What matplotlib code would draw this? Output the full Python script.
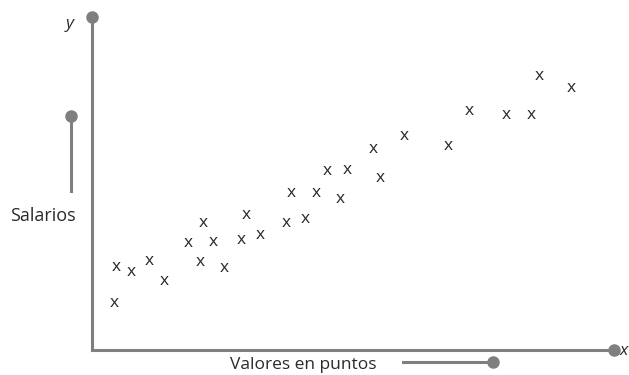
import matplotlib.pyplot as plt

# puntos (valor en puntos, salario) en unidades relativas 0-100
puntos = [4.2, 4.6, 7.5, 10.9, 13.8, 18.4, 21.3, 23.2, 20.7, 25.3,
          28.5, 29.5, 32.2, 37.2, 40.8, 38.1, 42.9, 45.0, 48.9, 47.5,
          53.8, 55.2, 59.8, 68.2, 72.2, 79.3, 84.1, 85.6, 91.8]
salarios = [14.1, 24.9, 23.4, 26.7, 20.7, 32.1, 38.1, 32.4, 26.4, 24.6,
            33.0, 40.5, 34.5, 38.1, 39.3, 47.1, 47.1, 53.8, 54.1, 45.3,
            60.4, 51.7, 64.3, 61.3, 71.8, 70.6, 70.6, 82.3, 78.7]

gris = '#7f7f7f'
tinta = '#2a2a2a'
plt.rcParams['font.family'] = ['Open Sans', 'DejaVu Sans']

fig = plt.figure(figsize=(6.29, 3.75), dpi=100)
ax = fig.add_axes([92 / 629, 25 / 375, 522 / 629, 333 / 375])
ax.set_xlim(0, 100)
ax.set_ylim(0, 100)

for s in ['top', 'right']:
    ax.spines[s].set_visible(False)
for s in ['left', 'bottom']:
    ax.spines[s].set_color(gris)
    ax.spines[s].set_linewidth(2.2)
    ax.spines[s].set_capstyle('projecting')
ax.set_xticks([])
ax.set_yticks([])

# extremos de los ejes
ax.plot([0, 100], [100, 0], 'o', color=gris, ms=8, clip_on=False, ls='none')
ax.text(-4.2, 97.9, 'y', style='italic', fontsize=12.5, ha='center', va='center', color=tinta)
ax.text(101.9, -0.3, 'x', style='italic', fontsize=12.5, ha='center', va='center', color=tinta)

# datos como letras x
for px, sy in zip(puntos, salarios):
    ax.text(px, sy, 'x', fontsize=12.5, ha='center', va='center', color=tinta)

# rótulo vertical
ax.plot([-4.0, -4.0], [47.7, 70.3], color=gris, lw=2.2, clip_on=False)
ax.plot([-4.0], [70.3], 'o', color=gris, ms=8, clip_on=False)
ax.text(-9.4, 40.2, 'Salarios', fontsize=13, ha='center', va='center', color=tinta)

# rótulo horizontal
ax.plot([59.6, 76.8], [-3.6, -3.6], color=gris, lw=2.2, clip_on=False)
ax.plot([76.8], [-3.6], 'o', color=gris, ms=8, clip_on=False)
ax.text(40.4, -4.6, 'Valores en puntos', fontsize=12.5, ha='center', va='center', color=tinta)

fig.savefig('out.png', dpi=100)
